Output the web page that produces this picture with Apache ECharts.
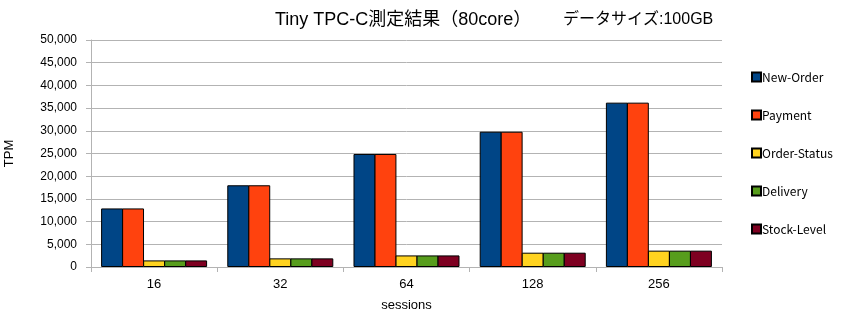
<!DOCTYPE html>
<html><head><meta charset="utf-8">
<script src="https://cdn.jsdelivr.net/npm/echarts@6/dist/echarts.min.js"></script>
<style>html,body{margin:0;padding:0;background:#fff}#c{width:857px;height:320px}</style>
</head><body><div id="c"></div>
<script>
const categories = ['16','32','64','128','256'];
const seriesNames = ['New-Order','Payment','Order-Status','Delivery','Stock-Level'];
const newOrder    = [12900, 18000, 24900, 29800, 36200];
const payment     = [12900, 18000, 24900, 29800, 36200];
const orderStatus = [1450, 1900, 2550, 3150, 3600];
const delivery    = [1450, 1900, 2550, 3150, 3600];
const stockLevel  = [1450, 1900, 2550, 3150, 3600];
const colors = ['#004586','#ff420e','#ffd320','#579d1c','#7e0021'];
const values = [newOrder, payment, orderStatus, delivery, stockLevel];

const font = 'Liberation Sans, Arial, sans-serif';
const tfont = 'Liberation Sans, Noto Sans CJK JP, sans-serif';
const chart = echarts.init(document.getElementById('c'));
chart.setOption({
  animation: false,
  color: colors,
  title: [
    {text: 'Tiny TPC-C測定結果（80core）', left: 270, top: 6, textStyle: {fontSize: 18, fontWeight: 'normal', color: '#000', fontFamily: tfont}},
    {text: 'データサイズ:100GB', left: 558, top: 7, textStyle: {fontSize: 16, fontWeight: 'normal', color: '#000', fontFamily: tfont}}
  ],
  grid: {left: 91, right: 135, top: 40, bottom: 53, outerBoundsMode: 'none', containLabel: false},
  legend: {
    orient: 'vertical', left: 746, top: 66, itemGap: 26,
    itemWidth: 9, itemHeight: 9,
    icon: 'rect',
    textStyle: {fontSize: 12, color: '#000', fontFamily: 'Noto Sans CJK JP, sans-serif', padding: [0,0,0,-4]},
    data: seriesNames
  },
  xAxis: {
    type: 'category', data: categories,
    name: 'sessions', nameLocation: 'middle', nameGap: 32,
    nameTextStyle: {fontSize: 13, color: '#000', fontFamily: font},
    axisLine: {lineStyle: {color: '#b3b3b3'}},
    axisTick: {show: true, length: 5, lineStyle: {color: '#b3b3b3'}},
    axisLabel: {fontSize: 13, color: '#000', fontFamily: font, margin: 11}
  },
  yAxis: {
    type: 'value', min: 0, max: 50000, interval: 5000,
    name: 'TPM', nameLocation: 'middle', nameGap: 75, nameRotate: 90,
    nameTextStyle: {fontSize: 13, color: '#000', fontFamily: font},
    axisLine: {show: true, lineStyle: {color: '#b3b3b3'}},
    axisTick: {show: true, length: 5, lineStyle: {color: '#b3b3b3'}},
    splitLine: {lineStyle: {color: '#b3b3b3'}},
    axisLabel: {fontSize: 12, color: '#000', fontFamily: font, margin: 14,
      formatter: v => v.toLocaleString('en-US')}
  },
  series: seriesNames.map((n, i) => ({
    name: n, type: 'bar', data: values[i],
    barGap: '-4%', barCategoryGap: '16%',
    itemStyle: {color: colors[i], borderColor: '#000', borderWidth: 1}
  }))
});
</script></body></html>
